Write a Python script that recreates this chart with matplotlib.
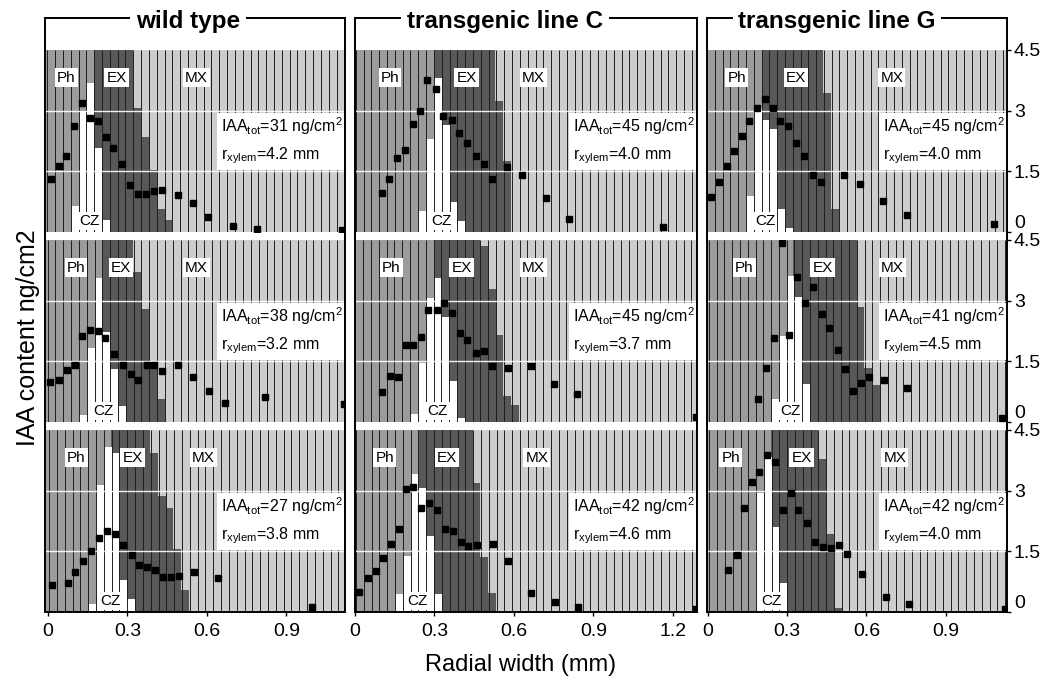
import numpy as np
import matplotlib.pyplot as plt
from matplotlib.patches import Rectangle

plt.rcParams['font.family'] = ['Liberation Sans', 'DejaVu Sans']
plt.rcParams['mathtext.default'] = 'regular'

# column titles and axis ranges
titles = ['wild type', 'transgenic line C', 'transgenic line G']
x_min = [-0.011, 0.0, -0.004]
x_max = [1.121, 1.291, 1.133]
x_ticks = [[0, 0.3, 0.6, 0.9], [0, 0.3, 0.6, 0.9, 1.2], [0, 0.3, 0.6, 0.9]]
x_ticklabels = [['0', '0.3', '0.6', '0.9'], ['0', '0.3', '0.6', '0.9', '1.2'], ['0', '0.3', '0.6', '0.9']]
y_ticks = [0, 1.5, 3, 4.5]
y_ticklabels = ['0', '1.5', '3', '4.5']
cell_w = 0.0295

# text values per panel (row, column)
iaa_tot = [[31, 45, 45], [38, 45, 41], [27, 42, 42]]
r_xylem = [['4.2', '4.0', '4.0'], ['3.2', '3.7', '4.5'], ['3.8', '4.6', '4.0']]

# IAA content per cell (black squares)
dot_x = [
    [[0.010, 0.043, 0.070, 0.099, 0.129, 0.158, 0.190, 0.219, 0.247, 0.279, 0.309, 0.341, 0.370, 0.400, 0.430, 0.489, 0.546, 0.605, 0.699, 0.790, 1.108],
     [0.101, 0.130, 0.160, 0.189, 0.218, 0.245, 0.273, 0.306, 0.333, 0.365, 0.394, 0.424, 0.455, 0.487, 0.516, 0.572, 0.631, 0.721, 0.806, 1.163],
     [0.010, 0.042, 0.071, 0.098, 0.128, 0.157, 0.184, 0.216, 0.245, 0.273, 0.304, 0.333, 0.364, 0.397, 0.428, 0.516, 0.576, 0.662, 0.753, 1.083]],
    [[0.008, 0.042, 0.071, 0.102, 0.129, 0.158, 0.188, 0.216, 0.249, 0.282, 0.312, 0.341, 0.372, 0.401, 0.431, 0.489, 0.546, 0.608, 0.669, 0.821, 1.117],
     [0.103, 0.132, 0.164, 0.191, 0.220, 0.248, 0.277, 0.308, 0.337, 0.367, 0.396, 0.424, 0.457, 0.487, 0.516, 0.576, 0.663, 0.751, 0.839, 1.287],
     [0.191, 0.220, 0.251, 0.279, 0.308, 0.336, 0.367, 0.399, 0.431, 0.459, 0.491, 0.519, 0.548, 0.578, 0.610, 0.667, 0.755, 1.115]],
    [[0.014, 0.077, 0.104, 0.133, 0.162, 0.192, 0.224, 0.253, 0.284, 0.316, 0.345, 0.375, 0.405, 0.435, 0.463, 0.494, 0.552, 0.643, 0.997],
     [0.016, 0.048, 0.078, 0.107, 0.136, 0.166, 0.192, 0.220, 0.249, 0.279, 0.311, 0.340, 0.369, 0.399, 0.428, 0.459, 0.520, 0.579, 0.664, 0.755, 0.843, 1.287],
     [0.077, 0.109, 0.136, 0.165, 0.194, 0.225, 0.254, 0.285, 0.314, 0.342, 0.374, 0.405, 0.437, 0.466, 0.496, 0.525, 0.584, 0.674, 0.761, 1.125]],
]
dot_y = [
    [[1.30, 1.64, 1.89, 2.63, 3.20, 2.83, 2.75, 2.35, 2.07, 1.68, 1.16, 0.95, 0.95, 1.02, 1.04, 0.92, 0.71, 0.36, 0.16, 0.08, 0.06],
     [0.96, 1.31, 1.84, 2.03, 2.67, 2.98, 3.75, 3.54, 2.87, 2.78, 2.45, 2.19, 1.89, 1.68, 1.32, 1.61, 1.40, 0.85, 0.33, 0.13],
     [0.87, 1.24, 1.62, 2.01, 2.37, 2.74, 3.06, 3.30, 3.06, 2.74, 2.63, 2.20, 1.89, 1.42, 1.24, 1.40, 1.19, 0.77, 0.43, 0.19]],
    [[0.99, 1.03, 1.28, 1.41, 2.13, 2.28, 2.25, 2.08, 1.69, 1.41, 1.18, 1.05, 1.41, 1.41, 1.26, 1.41, 1.11, 0.76, 0.47, 0.63, 0.44],
     [0.74, 1.13, 1.11, 1.91, 1.91, 2.09, 2.76, 2.78, 2.95, 2.70, 2.19, 2.03, 1.70, 1.76, 1.38, 1.34, 1.38, 0.95, 0.68, 0.13],
     [0.58, 1.34, 2.07, 4.43, 2.15, 3.59, 2.95, 3.34, 2.68, 2.33, 1.78, 1.32, 0.76, 0.97, 1.11, 1.05, 0.84, 0.09]],
    [[0.67, 0.71, 0.98, 1.26, 1.50, 1.82, 2.01, 1.92, 1.65, 1.42, 1.17, 1.11, 1.03, 0.86, 0.86, 0.89, 0.98, 0.83, 0.13],
     [0.50, 0.83, 1.01, 1.33, 1.69, 2.04, 3.05, 3.08, 2.58, 2.69, 2.53, 2.04, 2.00, 1.73, 1.63, 1.65, 1.69, 1.25, 0.48, 0.25, 0.13, 0.08],
     [1.03, 1.40, 2.58, 3.22, 3.47, 3.88, 3.71, 2.53, 2.93, 2.53, 2.21, 1.72, 1.61, 1.59, 1.65, 1.44, 0.94, 0.36, 0.19, 0.08]],
]

# cambial zone (white bars): first bar edge and bar heights
cz_x0 = [[0.086, 0.239, 0.144], [0.117, 0.208, 0.239], [0.152, 0.151, 0.182]]
cz_h = [
    [[0.65, 3.0, 3.68, 2.07, 0.29], [0.52, 2.29, 3.8, 2.65, 0.73, 0.27], [0.9, 3.07, 2.78, 2.55, 0.56, 0.09]],
    [[0.18, 1.84, 3.55, 2.22, 1.30, 0.4], [0.19, 1.45, 3.07, 3.55, 2.59, 1.01, 0.11], [0.58, 2.12, 3.61, 3.08, 0.94]],
    [[0.19, 3.15, 4.07, 3.94, 0.78, 0.33], [0.44, 1.38, 3.4, 3.07, 1.88, 0.44], [2.94, 3.83, 2.11, 0.72]],
]

# expanding xylem (dark zone): full height between start/end, then stepping bars
ex_start = [[0.175, 0.30, 0.203], [0.203, 0.30, 0.323], [0.238, 0.237, 0.239]]
ex_end = [[0.322, 0.528, 0.437], [0.322, 0.472, 0.563], [0.385, 0.444, 0.418]]
ex_tail = [
    [[3.07, 2.35, 1.54, 0.57, 0.29], [3.24, 1.76], [3.44, 0.57]],
    [[3.72, 2.8, 1.47, 0.58], [4.34, 3.3, 2.15, 0.65, 0.43], [2.84, 1.34, 0.91]],
    [[3.94, 2.86, 2.57, 1.57, 0.55], [3.19, 1.36, 0.46], [3.78, 1.94, 0.1]],
]

# zone label positions (mm)
ph_lx = [[0.07, 0.132, 0.109], [0.106, 0.138, 0.137], [0.108, 0.113, 0.086]]
ex_lx = [[0.259, 0.421, 0.333], [0.275, 0.403, 0.434], [0.32, 0.348, 0.355]]
mx_lx = [[0.561, 0.673, 0.696], [0.561, 0.673, 0.699], [0.586, 0.686, 0.708]]
cz_lx = [[0.158, 0.327, 0.216], [0.209, 0.312, 0.311], [0.237, 0.237, 0.239]]

PH_COL = '#9c9c9c'
EX_COL = '#585858'
MX_COL = '#cdcdcd'

W, H = 1042, 676
col_left = [45, 355, 707]
col_w = [300, 342, 300]
row_top = [50, 240, 430]
row_h = 182
title_cx = [188, 505, 837]

fig = plt.figure(figsize=(W / 100, H / 100), dpi=100)

for r in range(3):
    for c in range(3):
        ax = fig.add_axes([col_left[c] / W, 1 - (row_top[r] + row_h) / H, col_w[c] / W, row_h / H])
        ax.set_xlim(x_min[c], x_max[c])
        ax.set_ylim(0, 4.5)
        ax.set_facecolor(MX_COL)

        # zones
        ax.axvspan(x_min[c], ex_start[r][c], color=PH_COL, lw=0, zorder=1)
        ax.axvspan(ex_start[r][c], ex_end[r][c], color=EX_COL, lw=0, zorder=1)
        tail = ex_tail[r][c]
        tx = ex_end[r][c] + cell_w * (np.arange(len(tail)) + 0.5)
        ax.bar(tx, tail, width=cell_w, color=EX_COL, lw=0, zorder=1)
        cz = cz_h[r][c]
        cx = cz_x0[r][c] + cell_w * (np.arange(len(cz)) + 0.5)
        ax.bar(cx, cz, width=cell_w, color='white', lw=0, zorder=2)

        # cell walls
        first = cz_x0[r][c] - cell_w * np.floor((cz_x0[r][c] - x_min[c]) / cell_w)
        ax.vlines(np.arange(first, x_max[c], cell_w), 0, 4.5, color='#1e1e1e', lw=0.7, zorder=3)
        for g in (1.5, 3):
            ax.axhline(g, color='white', lw=1.0, alpha=0.9, zorder=3)

        ax.plot(dot_x[r][c], dot_y[r][c], 's', color='black', ms=4.8, zorder=6)

        box = dict(facecolor='white', edgecolor='none', pad=1.5)
        for lx, txt in ((ph_lx, 'Ph'), (ex_lx, 'EX'), (mx_lx, 'MX')):
            ax.text(lx[r][c], 3.82, txt, ha='center', va='center', fontsize=11, bbox=box, zorder=7)
        ax.text(cz_lx[r][c], 0.27, 'CZ', ha='center', va='center', fontsize=11, bbox=box, zorder=7)

        ax.text(0.993, 0.5,
                f'IAA$_{{tot}}$={iaa_tot[r][c]} ng/cm$^{{2}}$\nr$_{{xylem}}$={r_xylem[r][c]} mm',
                transform=ax.transAxes, ha='right', va='center', multialignment='left',
                fontsize=11.5, linespacing=1.6,
                bbox=dict(facecolor='white', edgecolor='none', pad=3), zorder=7)

        for s in ax.spines.values():
            s.set_visible(False)

        if r == 2:
            ax.set_xticks(x_ticks[c])
            ax.set_xticklabels(x_ticklabels[c])
            ax.tick_params(axis='x', direction='out', length=3, width=1, pad=5, labelsize=14)
        else:
            ax.set_xticks([])

        if c == 2:
            ax.yaxis.tick_right()
            ax.set_yticks(y_ticks)
            ax.set_yticklabels(y_ticklabels)
            ax.tick_params(axis='y', direction='out', length=3, width=1, pad=2, labelsize=14)
            ax.get_yticklabels()[0].set_va('bottom')
        else:
            ax.set_yticks([])

# column frames with titles
for c in range(3):
    fig.add_artist(Rectangle((col_left[c] / W, 1 - 612 / H), col_w[c] / W, (612 - 18) / H,
                             transform=fig.transFigure, fill=False, edgecolor='black', lw=1.4))
    fig.text(title_cx[c] / W, 1 - 28 / H, titles[c], ha='center', va='baseline', fontsize=17.5,
             fontweight='bold', bbox=dict(facecolor='white', edgecolor='none', pad=4))

fig.text(0.027, 0.5, 'IAA content ng/cm2', rotation=90, ha='center', va='center', fontsize=18)
fig.text(0.5, 1 - 671 / H, 'Radial width (mm)', ha='center', va='baseline', fontsize=17)

fig.savefig('out.png', dpi=100)
